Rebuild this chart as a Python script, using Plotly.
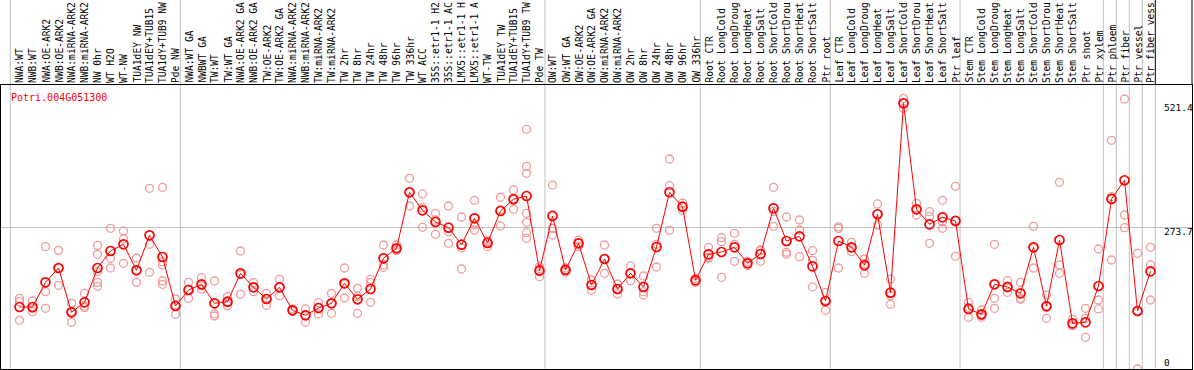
import plotly.graph_objects as go

# column labels as visible in the reference (truncated at the top edge there)
labels = [
    "NWA:WT", "NWB:WT", "NWA:OE-ARK2", "NWB:OE-ARK2", "NWA:miRNA-ARK2", "NWB:miRNA-ARK2",
    "NW 0hr", "WT H2O", "WT-NW", "TUA1dEY NW", "TUA1dEY+TUB15", "TUA1dY+TUB9 NW", "Pde NW",
    "NWA:WT GA", "NWBWT GA", "TW:WT", "TW:WT GA", "NWA:OE-ARK2 GA", "NWB:OE-ARK2 GA",
    "TW:OE-ARK2", "TW:OE-ARK2 GA", "NWA:miRNA-ARK2", "NWB:miRNA-ARK2", "TW:miRNA-ARK2",
    "TW:miRNA-ARK2", "TW 2hr", "TW 8hr", "TW 24hr", "TW 48hr", "TW 96hr", "TW 336hr", "WT ACC",
    "35S::etr1-1 H2", "35S::etr1-1 AC", "LMX5::etr1-1 H", "LMX5::etr1-1 A", "WT-TW",
    "TUA1dEY TW", "TUA1dEY+TUB15", "TUA1dY+TUB9 TW", "Pde TW",
    "OW:WT", "OW:WT GA", "OW:OE-ARK2", "OW:OE-ARK2 GA", "OW:miRNA-ARK2", "OW:miRNA-ARK2",
    "OW 2hr", "OW 8hr", "OW 24hr", "OW 48hr", "OW 96hr", "OW 336hr",
    "Root CTR", "Root LongCold", "Root LongDroug", "Root LongHeat", "Root LongSalt",
    "Root ShortCold", "Root ShortDrou", "Root ShortHeat", "Root ShortSalt", "Ptr root",
    "Leaf CTR", "Leaf LongCold", "Leaf LongDroug", "Leaf LongHeat", "Leaf LongSalt",
    "Leaf ShortCold", "Leaf ShortDrou", "Leaf ShortHeat", "Leaf ShortSalt", "Ptr leaf",
    "Stem CTR", "Stem LongCold", "Stem LongDroug", "Stem LongHeat", "Stem LongSalt",
    "Stem ShortCold", "Stem ShortDrou", "Stem ShortHeat", "Stem ShortSalt", "Ptr shoot",
    "Ptr xylem", "Ptr phloem", "Ptr fiber", "Ptr vessel", "Ptr fiber vess",
]

means = [
    120.3, 120.3, 168.2, 196.0, 110.0, 129.4, 196.0, 229.0, 242.0, 191.6, 259.5, 217.4, 122.3,
    153.3, 164.4, 127.5, 130.6, 185.7, 158.5, 135.9, 158.5, 113.9, 104.2, 118.4, 127.5, 166.3,
    135.3, 155.3, 214.9, 234.3, 343.0, 308.0, 285.3, 274.3, 241.3, 292.5, 244.6, 306.7, 329.4,
    335.8, 190.8,
    297.0, 192.2, 244.0, 163.0, 213.5, 155.3, 185.7, 159.2, 236.8, 343.0, 315.0, 172.1,
    222.6, 227.1, 236.2, 205.1, 223.2, 311.9, 248.4, 257.5, 199.3, 132.0,
    248.4, 236.2, 201.3, 300.3, 148.1, 515.7, 310.0, 280.8, 294.4, 287.3,
    116.5, 106.2, 164.4, 159.2, 146.9, 236.2, 121.7, 250.4, 88.7, 90.6, 161.1,
    330.0, 366.3, 112.6, 189.6,
]

replicates = [
    [137, 130.6, 94.5], [132, 117.7, 111.2], [237.5, 150, 117.8], [230.3, 195.3, 162.4],
    [127.5, 111.9, 90.6], [146.9, 122.3, 119], [240, 222.6, 188.9, 168.2, 160.5],
    [273.1, 214.9, 196], [267.9, 252.3, 205.1], [215.4, 191.2, 168.2], [350.7, 242, 187.7],
    [352.7, 208.3, 201.9, 170.8, 164.4], [135.9, 124.8, 106.2],
    [168.2, 154.5, 137.2], [177.2, 161.3, 154.7], [170.8, 106.8, 102.9], [140.4, 128.5, 122.9],
    [229, 183, 145], [167.5, 158, 150], [146.9, 137, 123.6], [174.1, 159, 142.3],
    [116.5, 113, 112], [116.5, 105.5, 90.6], [128.7, 119.7, 106.8], [146.9, 127.5, 108.1],
    [196, 165, 137.8], [156.6, 141, 108.1], [174.1, 167.5, 129.5], [240.7, 201.9, 197.4],
    [240.7, 232.6, 229.6], [370.1, 342.5, 316.4], [339.7, 313.1, 275], [302.2, 289.2, 261.4],
    [316.4, 266.5, 244], [295, 235, 194.1], [327.4, 280, 269.8], [249, 247, 237.4],
    [333.3, 309, 277.6], [347.4, 330.8, 310],
    [465.2, 393.4, 379.8, 302.2, 284.7, 264.6, 253.7], [198.6, 194.6, 179.2],
    [357, 273, 260], [196, 192, 188], [250, 244, 238], [172.7, 163.6, 152.7],
    [240.7, 214, 185.7], [165, 155.3, 145.6], [200, 185.7, 171.4], [180.5, 150, 143.6],
    [273.1, 242, 198], [407.6, 355.8, 269.2], [322, 315, 308], [176, 172, 168],
    [236.2, 216.8, 214.9], [254.9, 247.1, 178], [263.4, 242, 209], [209, 205, 201],
    [231, 229.6, 209], [352.7, 306, 277], [295, 226.5, 222.6], [289.2, 269.8, 218],
    [229.6, 211, 159.2], [148.9, 133.2, 113.9],
    [276, 273, 196], [245.9, 235, 227.7], [213.5, 204.7, 185.7], [320.3, 301, 279.5],
    [174.7, 142.3, 125.6], [525.4, 515.7, 506], [321.6, 309.5, 298.9], [305.3, 295.6, 244],
    [327.4, 285.9, 273.1], [354.6, 288.6, 218.7],
    [129.5, 119.7, 100.3], [114.5, 103.8, 100.3], [242, 137.2, 117.8], [171.4, 157.3, 148.9],
    [168.2, 137.2, 135.3], [277, 235.6, 196], [143.6, 123.1, 98.4], [362.4, 201.9, 185.7],
    [96.5, 85.5, 84.1], [117.8, 98.4, 61.5], [232.9, 133.9, 116.5],
    [443.9, 334.5, 211.6], [524, 298.9, 274.3], [224.6, 113.2, 0], [236.2, 201.9, 133.9],
]

group_bounds = [-0.71, 12.37, 40.42, 52.37, 62.37, 72.35, 83.37, 84.37, 85.37, 86.37, 87.37]
gene = "Potri.004G051300"
axis_marks = [521.4, 273.7, 0]
mid_value = 273.7

x_idx = list(range(len(labels)))
rx, ry = [], []
for i, vals in enumerate(replicates):
    for v in vals:
        rx.append(i)
        ry.append(v)

MONO = "DejaVu Sans Mono"
fig = go.Figure()
fig.add_trace(go.Scatter(
    x=rx, y=ry, mode="markers",
    marker=dict(symbol="circle-open", size=8, color="#f09a9a", line=dict(width=1.3, color="#f09a9a")),
    hoverinfo="skip", showlegend=False,
))
fig.add_trace(go.Scatter(
    x=x_idx, y=means, mode="lines+markers",
    line=dict(color="#ff0000", width=1),
    marker=dict(symbol="circle-open", size=9, color="#ff0000", line=dict(width=1.7, color="#ff0000")),
    showlegend=False,
))

TOP = 1.31
shapes = []
for b in group_bounds:
    shapes.append(dict(type="line", xref="x", yref="paper", x0=b, x1=b, y0=0,
                       y1=1.0 if b == group_bounds[-1] else TOP,
                       line=dict(color="#c0c0c0", width=1), layer="below"))
shapes.append(dict(type="line", xref="x", yref="paper", x0=group_bounds[-1], x1=group_bounds[-1],
                   y0=1.0, y1=TOP, line=dict(color="black", width=1), layer="above"))
shapes.append(dict(type="line", xref="paper", yref="paper", x0=1, x1=1, y0=1.0, y1=TOP,
                   line=dict(color="black", width=1), layer="above"))

annotations = []
for i, lab in enumerate(labels):
    annotations.append(dict(x=i, y=1.0, xref="x", yref="paper", text=lab, showarrow=False,
                            textangle=-90, xanchor="center", yanchor="bottom", yshift=1,
                            borderpad=0,
                            font=dict(family=MONO, size=9.6, color="black")))
annotations.append(dict(x=0.0065, y=0.957, xref="paper", yref="paper", text=gene, showarrow=False,
                        xanchor="left", yanchor="middle",
                        font=dict(family=MONO, size=10, color="#ff0000")))
shifts = {521.4: -7, 273.7: -4, 0: 7}
for v in axis_marks:
    annotations.append(dict(x=0.9755, y=v, xref="paper", yref="y", text=f"{v:g}", showarrow=False,
                            xanchor="left", yanchor="middle", yshift=shifts[v], borderpad=0,
                            font=dict(family=MONO, size=9.5, color="black")))

fig.update_layout(
    width=1194, height=370,
    margin=dict(l=1, r=2, t=85, b=1),
    paper_bgcolor="white", plot_bgcolor="rgba(0,0,0,0)",
    xaxis=dict(range=[-1.423, 90.192], showgrid=False, zeroline=False, showticklabels=False,
               showline=True, mirror=True, linecolor="black", linewidth=1, ticks=""),
    yaxis=dict(range=[0, 551.2], tickvals=[mid_value], showticklabels=False, showgrid=True,
               gridcolor="#c0c0c0", gridwidth=1, zeroline=False, showline=True, mirror=True,
               linecolor="black", linewidth=1, ticks=""),
    shapes=shapes, annotations=annotations,
)
fig.write_html("out.html", config={"displayModeBar": False},
               post_script="document.body.style.margin='0';document.body.style.padding='0';")
